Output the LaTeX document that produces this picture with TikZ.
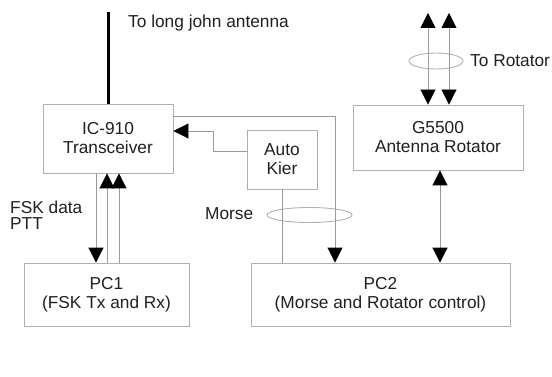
\documentclass[tikz,border=0pt]{standalone}
\usepackage{fontspec}
\setmainfont{Liberation Sans}
\usetikzlibrary{arrows.meta}
\definecolor{boxgray}{HTML}{B0B0B0}
\definecolor{wiregray}{HTML}{9A9A9A}
\definecolor{txt}{HTML}{202020}
\begin{document}
\begin{tikzpicture}[x=1pt,y=-1pt,
  box/.style={draw=boxgray, line width=0.9pt, fill=white, align=center, inner sep=0pt,
    text=txt, font=\fontsize{17.3}{19}\selectfont},
  lbl/.style={text=txt, inner sep=0pt, anchor=west, font=\fontsize{17.3}{19}\selectfont},
  wire/.style={draw=wiregray, line width=0.9pt},
  tipend/.style={-{Triangle[length=15pt,width=15pt,color=black]}},
  tipstart/.style={{Triangle[length=15pt,width=15pt,color=black]}-},
  tipboth/.style={{Triangle[length=15pt,width=15pt,color=black]}-{Triangle[length=15pt,width=15pt,color=black]}},
  loop/.style={draw=boxgray, line width=0.9pt}]
\useasboundingbox (0,0) rectangle (552,377);

% boxes
\node[box, minimum width=130pt, minimum height=69pt] (ic) at (108,138.5) {IC-910\\Transceiver};
\node[box, minimum width=70pt, minimum height=59pt] (ak) at (282,159.5) {Auto\\Kier};
\node[box, minimum width=170pt, minimum height=65pt] (g5) at (438,137.5) {G5500\\Antenna Rotator};
\node[box, minimum width=165pt, minimum height=63pt] (pc1) at (106.5,294.5) {PC1\\(FSK Tx and Rx)};
\node[box, minimum width=259pt, minimum height=63pt] (pc2) at (380.5,294.5) {PC2\\(Morse and Rotator control)};

% loops (behind wires)
\draw[loop] (309.5,215) ellipse [x radius=42.5pt, y radius=7.5pt];
\draw[loop] (436,61) ellipse [x radius=27pt, y radius=8pt];

% antenna
\coordinate (ant) at (108,12);
\draw[line width=3pt] (ic.north) -- (ant);
\node[lbl] (antl) at (128,23) {To long john antenna};

% IC-910 to PC2
\coordinate (k1) at (335,116);
\draw[wire, tipend] (ic.east |- k1) -- (k1) -- (k1 |- pc2.north);

% Auto Kier to IC-910
\coordinate (k2) at (213,151);
\coordinate (k3) at (213,131);
\draw[wire, tipend] (ak.west |- k2) -- (k2) -- (k3) -- (ic.east |- k3);

% Auto Kier to PC2
\draw[wire] (ak.south) -- (ak.south |- pc2.north);

% IC-910 and PC1
\coordinate (p1) at (96,200);
\coordinate (p2) at (107,200);
\coordinate (p3) at (119,200);
\draw[wire, tipend] (ic.south -| p1) -- (pc1.north -| p1);
\draw[wire, tipstart] (ic.south -| p2) -- (pc1.north -| p2);
\draw[wire, tipstart] (ic.south -| p3) -- (pc1.north -| p3);
\node[lbl] (fsk) at (10,207) {FSK data};
\node[lbl] (ptt) at (10,224) {PTT};

% Morse label
\node[lbl] (morse) at (205,214) {Morse};

% G5500 and PC2
\coordinate (g1) at (440,200);
\draw[wire, tipboth] (g5.south -| g1) -- (pc2.north -| g1);

% to rotator
\coordinate (r1) at (428,13);
\coordinate (r2) at (449,13);
\draw[wire, tipboth] (r1) -- (g5.north -| r1);
\draw[wire, tipboth] (r2) -- (g5.north -| r2);
\node[lbl] (rotl) at (470,61) {To Rotator};
\end{tikzpicture}
\end{document}
